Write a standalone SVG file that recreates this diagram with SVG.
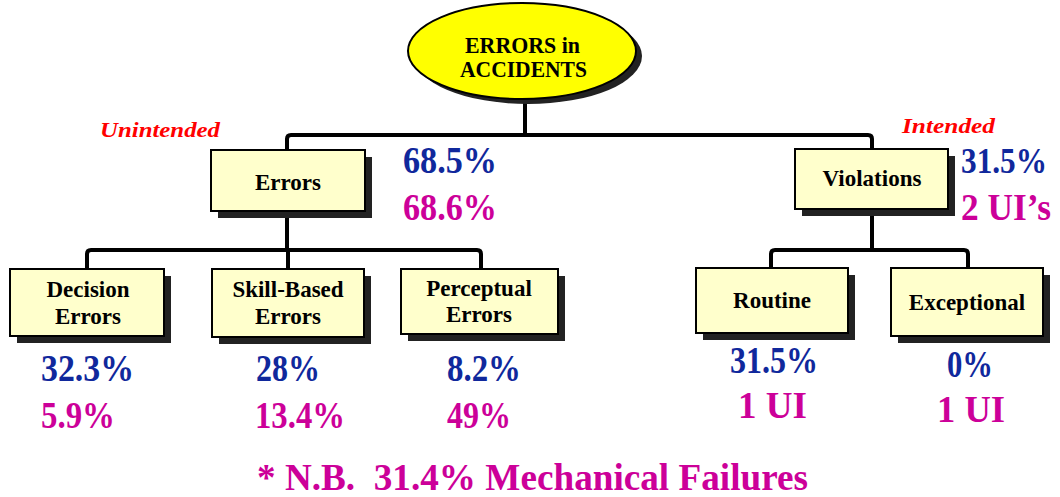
<svg xmlns="http://www.w3.org/2000/svg" width="1060" height="497" viewBox="0 0 1060 497">
<style>
.shadow{fill:#222}
.box{fill:#ffffcc;stroke:#000;stroke-width:2}
.lbl{font-family:"Liberation Serif","Times New Roman",serif;font-weight:bold;font-size:23px;fill:#000;text-anchor:middle}
.title{font-family:"Liberation Serif","Times New Roman",serif;font-weight:bold;font-size:24px;fill:#000}
.pct{font-family:"Liberation Serif","Times New Roman",serif;font-weight:bold;font-size:37px}
.blue{fill:#10289c}
.mag{fill:#cc0099}
.red{font-family:"Liberation Serif","Times New Roman",serif;font-weight:bold;font-style:italic;font-size:21.5px;fill:#ff0000}
.conn{fill:none;stroke:#000;stroke-width:4}
</style>
<rect width="1060" height="497" fill="#fff"/>
<g id="connectors">
<path class="conn" d="M525,100 V135"/>
<path class="conn" d="M287,150 V139 Q287,135 291,135 H868 Q872,135 872,139 V149"/>
<path class="conn" d="M287,211 V250"/>
<path class="conn" d="M87,269 V254 Q87,250 91,250 H477 Q481,250 481,254 V269"/>
<path class="conn" d="M288,250 V269"/>
<path class="conn" d="M872,209 V250"/>
<path class="conn" d="M771,268 V254 Q771,250 775,250 H964 Q968,250 968,254 V268"/>
</g>
<g id="root">
<ellipse cx="528" cy="56" rx="114" ry="48" class="shadow"/>
<ellipse cx="522" cy="51" rx="114" ry="48" fill="#ffff00" stroke="#000" stroke-width="2"/>
<text class="title" x="465" y="53" textLength="115" lengthAdjust="spacingAndGlyphs">ERRORS in</text>
<text class="title" x="460" y="77" textLength="127" lengthAdjust="spacingAndGlyphs">ACCIDENTS</text>
</g>
<g id="errors">
<rect x="218" y="157" width="154" height="61" class="shadow"/>
<rect x="211" y="150" width="154" height="61" class="box"/>
<text class="lbl" x="288" y="190">Errors</text>
<text class="red" x="100" y="137" textLength="120" lengthAdjust="spacingAndGlyphs">Unintended</text>
<text class="pct blue" x="403" y="173" textLength="94" lengthAdjust="spacingAndGlyphs">68.5%</text>
<text class="pct mag" x="403" y="220" textLength="94" lengthAdjust="spacingAndGlyphs">68.6%</text>
</g>
<g id="violations">
<rect x="802" y="156" width="153" height="60" class="shadow"/>
<rect x="795" y="149" width="153" height="60" class="box"/>
<text class="lbl" x="872" y="186">Violations</text>
<text class="red" x="902" y="133" textLength="93" lengthAdjust="spacingAndGlyphs">Intended</text>
<text class="pct blue" x="961" y="173" style="font-size:35px" textLength="86" lengthAdjust="spacingAndGlyphs">31.5%</text>
<text class="pct mag" x="961" y="220" textLength="90" lengthAdjust="spacingAndGlyphs">2 UI’s</text>
</g>
<g id="decision">
<rect x="17" y="276" width="154" height="67" class="shadow"/>
<rect x="10" y="269" width="154" height="67" class="box"/>
<text class="lbl" x="88" y="297">Decision</text>
<text class="lbl" x="88" y="324">Errors</text>
<text class="pct blue" x="41" y="381" textLength="93" lengthAdjust="spacingAndGlyphs">32.3%</text>
<text class="pct mag" x="41" y="428" textLength="74" lengthAdjust="spacingAndGlyphs">5.9%</text>
</g>
<g id="skill">
<rect x="219" y="276" width="152" height="68" class="shadow"/>
<rect x="212" y="269" width="152" height="68" class="box"/>
<text class="lbl" x="288" y="297">Skill-Based</text>
<text class="lbl" x="288" y="324">Errors</text>
<text class="pct blue" x="256" y="381" textLength="64" lengthAdjust="spacingAndGlyphs">28%</text>
<text class="pct mag" x="255" y="428" textLength="90" lengthAdjust="spacingAndGlyphs">13.4%</text>
</g>
<g id="perceptual">
<rect x="408" y="276" width="157" height="65" class="shadow"/>
<rect x="401" y="269" width="157" height="65" class="box"/>
<text class="lbl" x="479" y="296">Perceptual</text>
<text class="lbl" x="479" y="322">Errors</text>
<text class="pct blue" x="447" y="381" textLength="74" lengthAdjust="spacingAndGlyphs">8.2%</text>
<text class="pct mag" x="447" y="428" textLength="64" lengthAdjust="spacingAndGlyphs">49%</text>
</g>
<g id="routine">
<rect x="703" y="275" width="152" height="65" class="shadow"/>
<rect x="696" y="268" width="152" height="65" class="box"/>
<text class="lbl" x="772" y="308">Routine</text>
<text class="pct blue" x="730" y="373" textLength="88" lengthAdjust="spacingAndGlyphs">31.5%</text>
<text class="pct mag" x="738" y="418" textLength="69" lengthAdjust="spacingAndGlyphs">1 UI</text>
</g>
<g id="exceptional">
<rect x="898" y="275" width="152" height="68" class="shadow"/>
<rect x="891" y="268" width="152" height="68" class="box"/>
<text class="lbl" x="967" y="310">Exceptional</text>
<text class="pct blue" x="947" y="377" textLength="46" lengthAdjust="spacingAndGlyphs">0%</text>
<text class="pct mag" x="937" y="422" textLength="68" lengthAdjust="spacingAndGlyphs">1 UI</text>
</g>
<g id="note">
<text class="pct mag" x="257" y="490" xml:space="preserve" textLength="551" lengthAdjust="spacingAndGlyphs">* N.B.  31.4% Mechanical Failures</text>
</g>
</svg>
